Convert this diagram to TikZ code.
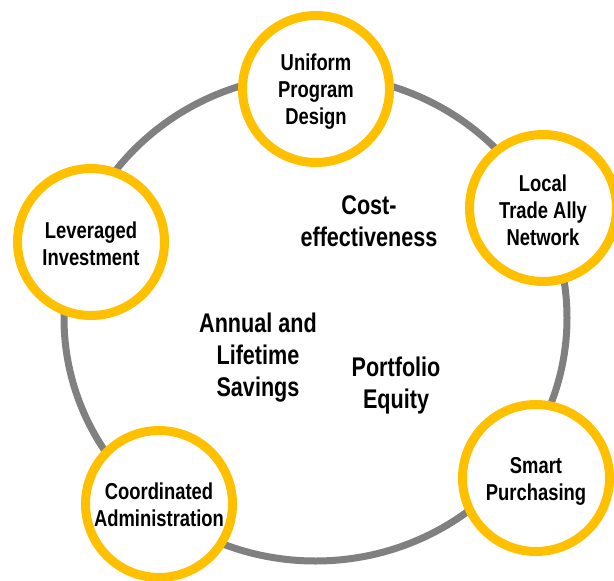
\documentclass[tikz,border=0pt]{standalone}
\usepackage{fontspec}
\setmainfont[FakeStretch=0.8]{Liberation Sans}
\definecolor{ringgold}{HTML}{FFC000}
\definecolor{loopgray}{HTML}{808080}
\begin{document}
\begin{tikzpicture}[x=1pt,y=-1pt,
  pillar/.style={circle, draw=ringgold, line width=9pt, fill=white,
    minimum size=147pt, inner sep=0pt},
  pillartext/.style={align=center, inner sep=0pt,
    font=\bfseries\fontsize{23}{27}\selectfont},
  theme/.style={align=center, inner sep=0pt,
    font=\bfseries\fontsize{27}{32}\selectfont}]
\useasboundingbox (0,0) rectangle (614,581);
\draw[loopgray, line width=7pt] (315.5,318) ellipse [x radius=251.5pt, y radius=243pt];
\node[pillar] (upd) at (316,89) {};
\node[pillar] (ltan) at (543,208) {};
\node[pillar] (li) at (91,242) {};
\node[pillar] (sp) at (536,478) {};
\node[pillar] (ca) at (159,504) {};
\node[pillartext] (updt) at ([yshift=-3pt]upd.center) {Uniform\\Program\\Design};
\node[pillartext] (ltant) at ([yshift=-2.5pt]ltan.center) {Local\\Trade Ally\\Network};
\node[pillartext] (lit) at ([yshift=-2pt]li.center) {Leveraged\\Investment};
\node[pillartext] (spt) at ([yshift=-3pt]sp.center) {Smart\\Purchasing};
\node[pillartext] (cat) at ([yshift=-1pt]ca.center) {Coordinated\\Administration};
\node[theme] (ce) at (369,221) {Cost-\\effectiveness};
\node[theme] (als) at (258,358) {Annual and\\Lifetime\\Savings};
\node[theme] (pe) at (396,386) {Portfolio\\Equity};
\end{tikzpicture}
\end{document}
